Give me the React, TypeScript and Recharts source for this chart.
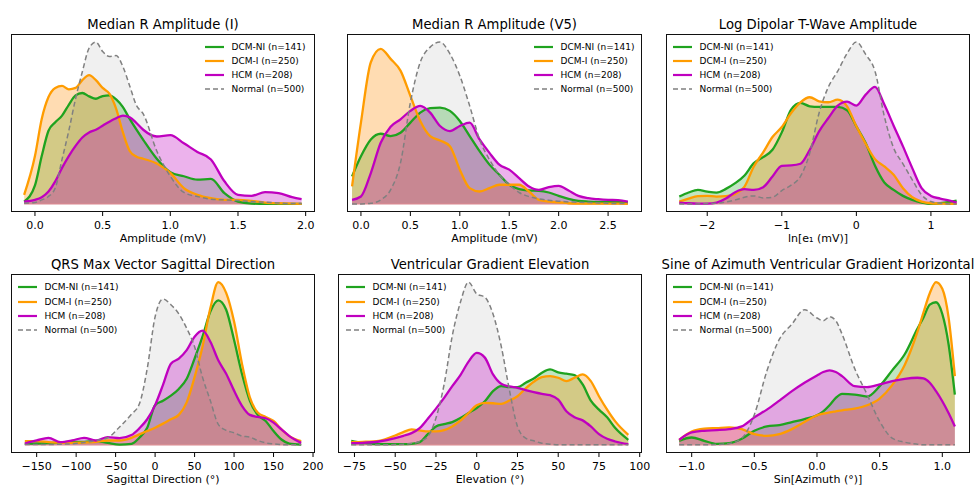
import React from "react";
import { ComposedChart, Area, Line, XAxis, YAxis, ReferenceLine } from "recharts";

// ---------- data (heights, arbitrary density units) ----------

// Median R Amplitude (I)
const ampIX = [-0.08, 0, 0.05, 0.1, 0.15, 0.2, 0.25, 0.3, 0.35, 0.4, 0.45, 0.5, 0.55, 0.6, 0.65, 0.7, 0.75, 0.8, 0.9, 1.0, 1.1, 1.2, 1.3, 1.4, 1.5, 1.6, 1.7, 1.8, 1.9, 1.97];
const ampINI = [7, 55, 142, 217, 242, 262, 294, 322, 329, 319, 312, 320, 322, 310, 287, 252, 220, 190, 134, 94, 82, 72, 74, 32, 7, 1, 0, 0, 0, 0];
const ampII = [27, 142, 252, 317, 344, 350, 340, 344, 367, 382, 367, 344, 327, 282, 212, 157, 140, 134, 120, 92, 47, 27, 17, 12, 12, 9, 4, 2, 1, 0];
const ampIHCM = [7, 12, 20, 37, 67, 107, 142, 172, 197, 212, 220, 232, 244, 254, 262, 257, 240, 220, 200, 204, 180, 154, 132, 67, 27, 24, 35, 32, 20, 14];
const ampINormal = [2, 4, 12, 22, 47, 132, 217, 312, 392, 462, 480, 452, 437, 440, 407, 350, 292, 267, 157, 82, 34, 22, 14, 12, 10, 7, 5, 3, 1, 1];

// Median R Amplitude (V5)
const ampV5X = [-0.09, 0, 0.1, 0.2, 0.3, 0.4, 0.5, 0.6, 0.7, 0.8, 0.9, 1.0, 1.1, 1.2, 1.3, 1.4, 1.5, 1.6, 1.7, 1.8, 1.9, 2.0, 2.1, 2.2, 2.3, 2.4, 2.5, 2.6, 2.7];
const ampV5NI = [82, 142, 192, 209, 202, 212, 242, 272, 285, 287, 277, 247, 202, 157, 117, 87, 57, 44, 40, 39, 34, 24, 15, 9, 7, 6, 6, 6, 5];
const ampV5I = [52, 242, 422, 462, 432, 397, 322, 247, 202, 189, 172, 102, 47, 37, 47, 57, 57, 57, 37, 12, 7, 5, 2, 1, 1, 1, 1, 1, 0];
const ampV5HCM = [12, 22, 92, 182, 230, 252, 277, 292, 272, 232, 217, 232, 242, 192, 152, 117, 102, 77, 52, 42, 50, 54, 40, 24, 17, 14, 12, 11, 7];
const ampV5Normal = [0, 0, 2, 12, 42, 122, 302, 422, 467, 482, 447, 382, 292, 192, 132, 87, 57, 34, 22, 15, 11, 8, 6, 5, 4, 3, 2, 1, 1];

// Log Dipolar T-Wave Amplitude
const tWaveX = [-2.375, -2.25, -2.125, -2.0, -1.875, -1.75, -1.625, -1.5, -1.375, -1.25, -1.125, -1.0, -0.875, -0.75, -0.625, -0.5, -0.375, -0.25, -0.125, 0, 0.125, 0.25, 0.375, 0.5, 0.625, 0.75, 0.875, 1.0, 1.125, 1.25, 1.345];
const tWaveNI = [22, 34, 42, 37, 34, 45, 62, 85, 122, 140, 162, 214, 282, 302, 292, 290, 290, 290, 280, 232, 182, 114, 64, 42, 24, 12, 4, 0, 2, 6, 10];
const tWaveI = [7, 16, 23, 24, 22, 23, 30, 52, 112, 154, 200, 230, 272, 304, 319, 307, 304, 312, 292, 232, 180, 134, 112, 87, 47, 20, 7, 2, 1, 0, 0];
const tWaveHCM = [4, 2, 1, 1, 4, 16, 35, 44, 42, 50, 82, 114, 115, 120, 162, 217, 257, 294, 306, 294, 327, 350, 297, 234, 172, 107, 47, 24, 16, 10, 4];
const tWaveNormal = [0, 0, 0, 1, 2, 6, 12, 20, 24, 18, 20, 40, 56, 82, 152, 272, 350, 397, 450, 484, 447, 397, 262, 167, 120, 72, 27, 7, 2, 0, 0];

// QRS Max Vector Sagittal Direction
const sagX = [-165, -150, -135, -120, -105, -90, -75, -60, -45, -30, -20, -10, 0, 10, 20, 30, 40, 50, 60, 70, 80, 90, 100, 110, 120, 130, 140, 150, 160, 170, 185];
const sagNI = [3, 4, 5, 7, 9, 9, 11, 6, 1, 3, 21, 51, 118, 131, 146, 166, 196, 256, 321, 396, 429, 401, 311, 211, 131, 89, 71, 41, 16, 4, 1];
const sagI = [11, 11, 8, 6, 6, 7, 9, 13, 13, 21, 31, 41, 51, 63, 76, 89, 126, 201, 291, 406, 483, 451, 366, 241, 141, 96, 83, 71, 46, 26, 11];
const sagHCM = [4, 13, 21, 8, 13, 21, 13, 23, 20, 29, 49, 76, 118, 178, 241, 256, 281, 321, 339, 306, 251, 211, 161, 116, 89, 83, 79, 66, 46, 26, 6];
const sagNormal = [1, 1, 1, 2, 3, 7, 13, 21, 53, 91, 121, 226, 380, 433, 416, 389, 346, 291, 201, 131, 61, 43, 36, 26, 23, 13, 6, 3, 1, 0, 0];

// Ventricular Gradient Elevation
const elevX = [-77, -70, -60, -50, -45, -40, -35, -30, -25, -20, -15, -10, -5, 0, 5, 10, 15, 20, 25, 30, 35, 40, 45, 50, 55, 60, 65, 70, 75, 80, 85, 93];
const elevNI = [12, 6, 2, 2, 2, 3, 8, 32, 55, 62, 68, 80, 95, 110, 130, 160, 175, 172, 172, 185, 198, 215, 225, 216, 212, 208, 180, 132, 105, 82, 50, 15];
const elevI = [8, 9, 12, 28, 38, 46, 43, 40, 40, 44, 55, 72, 95, 118, 125, 124, 122, 132, 145, 168, 188, 202, 205, 200, 190, 200, 210, 190, 145, 105, 70, 30];
const elevHCM = [5, 6, 10, 20, 27, 35, 50, 78, 108, 140, 175, 208, 248, 274, 260, 210, 182, 174, 170, 163, 157, 152, 148, 135, 100, 82, 73, 55, 32, 18, 10, 2];
const elevNormal = [0, 0, 0, 1, 2, 4, 10, 25, 80, 180, 325, 425, 485, 450, 440, 390, 295, 165, 55, 20, 12, 5, 2, 0, 0, 0, 0, 0, 0, 0, 0, 0];

// Sine of Azimuth Ventricular Gradient Horizontal
const azX = [-1.1, -1.0, -0.9, -0.8, -0.7, -0.6, -0.5, -0.4, -0.3, -0.2, -0.1, 0, 0.05, 0.1, 0.15, 0.2, 0.3, 0.4, 0.5, 0.6, 0.7, 0.8, 0.85, 0.9, 0.95, 1.0, 1.05, 1.1];
const azNI = [12, 22, 12, 3, 5, 18, 42, 55, 59, 68, 77, 88, 100, 118, 140, 152, 150, 144, 175, 222, 270, 345, 380, 418, 425, 390, 300, 150];
const azI = [15, 40, 48, 50, 52, 47, 32, 27, 32, 47, 68, 88, 93, 97, 100, 103, 108, 118, 138, 178, 238, 335, 395, 452, 485, 465, 380, 205];
const azHCM = [15, 37, 42, 44, 47, 55, 82, 105, 132, 160, 185, 207, 217, 222, 217, 205, 175, 172, 180, 190, 197, 200, 198, 185, 160, 130, 95, 55];
const azNormal = [0, 0, 0, 1, 4, 20, 90, 220, 315, 360, 403, 378, 370, 382, 370, 330, 228, 150, 70, 20, 8, 2, 0, 0, 0, 0, 0, 0];

const groupNames = ["DCM-NI (n=141)", "DCM-I (n=250)", "HCM (n=208)", "Normal (n=500)"];

// ---------- styling ----------
const GREEN = "#1fa31f";
const ORANGE = "#ff9c00";
const ORANGE_FILL = "#ff8c00";
const MAGENTA = "#bf00bf";
const GRAY = "#808080";
const FONT = "'DejaVu Sans', sans-serif";
const PAD = 25; // extra room on the chart sides so edge tick labels are not cut

const minus = (v: number, d: number) => (v < 0 ? "\u2212" : "") + Math.abs(v).toFixed(d);

type PanelDef = {
  title: string;
  xlabel: string;
  x: number[];
  ni: number[];
  i: number[];
  hcm: number[];
  normal: number[];
  domain: [number, number];
  ticks: number[];
  dec: number;
  left: number;
  top: number;
  w: number;
  h: number;
  legLeft: number;
  legTop: number;
};

const TOP = 34.3;
const BOT = 274.3;
const BH = 178;

const panels: PanelDef[] = [
  { title: "Median R Amplitude (I)", xlabel: "Amplitude (mV)", x: ampIX, ni: ampINI, i: ampII, hcm: ampIHCM, normal: ampINormal,
    domain: [-0.177, 2.069], ticks: [0, 0.5, 1, 1.5, 2], dec: 1, left: 11, top: TOP, w: 304, h: BH, legLeft: 205, legTop: 46.7 },
  { title: "Median R Amplitude (V5)", xlabel: "Amplitude (mV)", x: ampV5X, ni: ampV5NI, i: ampV5I, hcm: ampV5HCM, normal: ampV5Normal,
    domain: [-0.141, 2.843], ticks: [0, 0.5, 1, 1.5, 2, 2.5], dec: 1, left: 347, top: TOP, w: 295, h: BH, legLeft: 534, legTop: 46.7 },
  { title: "Log Dipolar T-Wave Amplitude", xlabel: "ln[e\u2081 (mV)]", x: tWaveX, ni: tWaveNI, i: tWaveI, hcm: tWaveHCM, normal: tWaveNormal,
    domain: [-2.553, 1.524], ticks: [-2, -1, 0, 1], dec: 0, left: 666, top: TOP, w: 304, h: BH, legLeft: 673, legTop: 46.7 },
  { title: "QRS Max Vector Sagittal Direction", xlabel: "Sagittal Direction (\u00b0)", x: sagX, ni: sagNI, i: sagI, hcm: sagHCM, normal: sagNormal,
    domain: [-182.5, 202.5], ticks: [-150, -100, -50, 0, 50, 100, 150, 200], dec: 0, left: 11, top: BOT, w: 304, h: 179, legLeft: 18, legTop: 287.3 },
  { title: "Ventricular Gradient Elevation", xlabel: "Elevation (\u00b0)", x: elevX, ni: elevNI, i: elevI, hcm: elevHCM, normal: elevNormal,
    domain: [-85.1, 101.4], ticks: [-75, -50, -25, 0, 25, 50, 75, 100], dec: 0, left: 338, top: BOT, w: 304, h: 179, legLeft: 346, legTop: 287.3 },
  { title: "Sine of Azimuth Ventricular Gradient Horizontal", xlabel: "Sin[Azimuth (\u00b0)]", x: azX, ni: azNI, i: azI, hcm: azHCM, normal: azNormal,
    domain: [-1.205, 1.221], ticks: [-1, -0.5, 0, 0.5, 1], dec: 1, left: 666, top: BOT, w: 304, h: 179, legLeft: 673, legTop: 287.3 },
];

function Legend({ left, top }: { left: number; top: number }) {
  const colors = [GREEN, ORANGE, MAGENTA, GRAY];
  return (
    <div style={{ position: "absolute", left, top: top - 7, fontFamily: FONT, fontSize: 9, color: "#000" }}>
      {groupNames.map((n, k) => (
        <div key={n} style={{ display: "flex", alignItems: "center", height: 14.2, whiteSpace: "nowrap" }}>
          <svg width={19} height={4} style={{ marginRight: 7.5 }}>
            <line x1={0} y1={2} x2={19} y2={2} stroke={colors[k]} strokeWidth={k === 3 ? 1.5 : 2.2}
              strokeDasharray={k === 3 ? "5 3" : undefined} />
          </svg>
          <span>{n}</span>
        </div>
      ))}
    </div>
  );
}

function Panel({ p }: { p: PanelDef }) {
  const rows = p.x.map((x, k) => ({ x, ni: p.ni[k], i: p.i[k], hcm: p.hcm[k], normal: p.normal[k] }));
  const M = Math.max(...p.ni, ...p.i, ...p.hcm, ...p.normal);
  const cx = p.left + p.w / 2;
  const titleY = p.top - 9.5;
  const labelY = p.top + p.h + 26.6;
  const x0 = p.x[0];
  const x1 = p.x[p.x.length - 1];
  return (
    <>
      <div style={{ position: "absolute", left: cx - 250, width: 500, top: titleY - 10, height: 20, lineHeight: "20px",
        textAlign: "center", fontFamily: FONT, fontSize: 13.2, color: "#000", whiteSpace: "nowrap" }}>{p.title}</div>
      <div style={{ position: "absolute", left: p.left - PAD, top: p.top }}>
        <ComposedChart width={p.w + 2 * PAD} height={p.h + 30} data={rows} margin={{ top: 0, right: PAD, bottom: 0, left: PAD }}>
          <XAxis dataKey="x" type="number" domain={p.domain} allowDataOverflow ticks={p.ticks} interval={0}
            tickFormatter={(v: number) => minus(v, p.dec)} tickSize={4} tickMargin={5.5} height={30}
            axisLine={false} tickLine={{ stroke: "#000" }}
            tick={{ fill: "#000", fontSize: 11, fontFamily: FONT }} />
          <YAxis hide domain={[-0.05 * M, 1.05 * M]} allowDataOverflow />
          <Area dataKey="normal" type="monotone" stroke="none" fill={GRAY} fillOpacity={0.12} baseValue={0} isAnimationActive={false} activeDot={false} />
          <Area dataKey="ni" type="monotone" stroke="none" fill={GREEN} fillOpacity={0.28} baseValue={0} isAnimationActive={false} activeDot={false} />
          <Area dataKey="i" type="monotone" stroke="none" fill={ORANGE_FILL} fillOpacity={0.3} baseValue={0} isAnimationActive={false} activeDot={false} />
          <Area dataKey="hcm" type="monotone" stroke="none" fill={MAGENTA} fillOpacity={0.3} baseValue={0} isAnimationActive={false} activeDot={false} />
          <ReferenceLine segment={[{ x: x0, y: 0 }, { x: x1, y: 0 }]} stroke="#d98890" strokeWidth={1.2} />
          <Line dataKey="ni" type="monotone" stroke={GREEN} strokeWidth={2.3} dot={false} activeDot={false} isAnimationActive={false} />
          <Line dataKey="i" type="monotone" stroke={ORANGE} strokeWidth={2.3} dot={false} activeDot={false} isAnimationActive={false} />
          <Line dataKey="hcm" type="monotone" stroke={MAGENTA} strokeWidth={2.3} dot={false} activeDot={false} isAnimationActive={false} />
          <Line dataKey="normal" type="monotone" stroke={GRAY} strokeWidth={1.5} strokeDasharray="5 3" dot={false} activeDot={false} isAnimationActive={false} />
        </ComposedChart>
        <div style={{ position: "absolute", left: PAD, top: 0, width: p.w, height: p.h, border: "1px solid #111",
          boxSizing: "border-box", pointerEvents: "none" }} />
      </div>
      <Legend left={p.legLeft} top={p.legTop} />
      <div style={{ position: "absolute", left: cx - 150, width: 300, top: labelY - 10, height: 20, lineHeight: "20px",
        textAlign: "center", fontFamily: FONT, fontSize: 11, color: "#000", whiteSpace: "nowrap" }}>{p.xlabel}</div>
    </>
  );
}

export default function App() {
  return (
    <div style={{ position: "absolute", left: 0, top: 0, width: 979, height: 487, background: "#fff", overflow: "hidden" }}>
      {panels.map((p) => (
        <Panel key={p.title} p={p} />
      ))}
    </div>
  );
}
